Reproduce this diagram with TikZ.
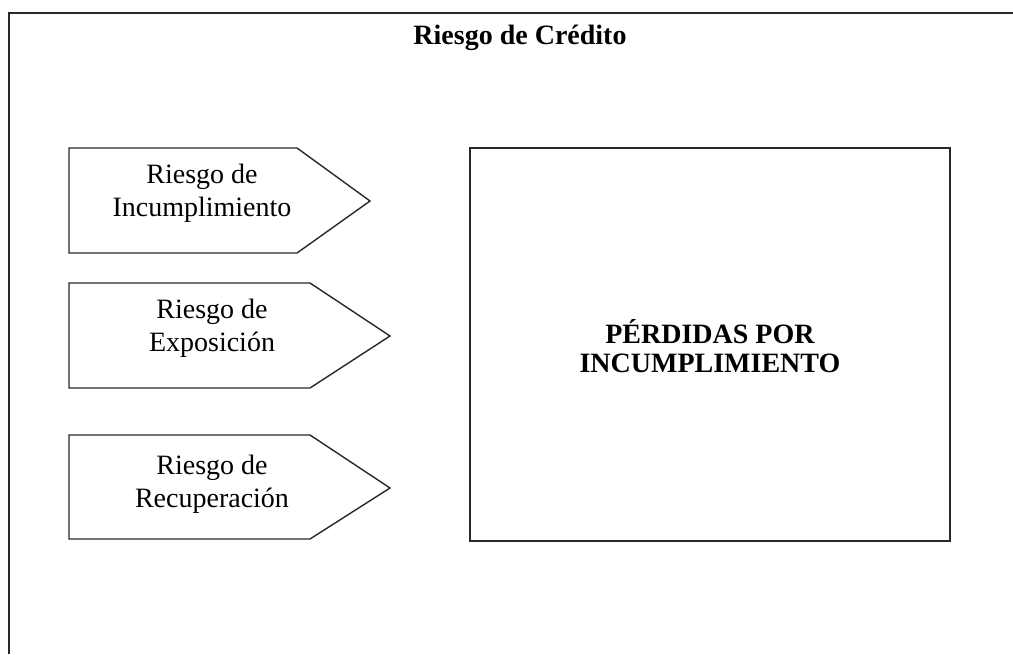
\documentclass[tikz,border=0pt]{standalone}
\definecolor{edge}{RGB}{40, 40, 40}
\usepackage{tikz}
\usepackage{xcolor}
\usepackage{fontspec}
\setmainfont{Liberation Serif}
\usetikzlibrary{calc,positioning}
\newcommand{\risklabel}[1]{\fontsize{14}{16.5}\selectfont #1}

\begin{document}
\begin{tikzpicture}[x=0.5pt, y=-0.5pt,
    outline/.style={draw=edge, line width=0.7pt},
    risktext/.style={align=center, inner sep=0pt, font=\fontsize{14}{16.5}\selectfont},
    bigtext/.style={align=center, inner sep=0pt, font=\bfseries\fontsize{14}{14.5}\selectfont}]
                \useasboundingbox (0,0) rectangle (1013,654);
                % frame
                \draw[outline] (9,654) -- (9,13) -- (1013,13);
                \node[font=\bfseries\fontsize{14}{16}\selectfont, inner sep=0pt] (title) at (520,38) {Riesgo de Crédito};
                % arrows on the left
                \draw[outline] (69,148) -- (297,148) -- (370,201) -- (297,253) -- (69,253) -- cycle;
                \draw[outline] (69,283) -- (310,283) -- (390,336) -- (310,388) -- (69,388) -- cycle;
                \draw[outline] (69,435) -- (310,435) -- (390,488) -- (310,539) -- (69,539) -- cycle;
                \node[risktext] (incump) at (202,193) {Riesgo de\\Incumplimiento};
                \node[risktext] (expo) at (212,328) {Riesgo de\\Exposición};
                \node[risktext] (recup) at (212,484) {Riesgo de\\Recuperación};
                % losses box
                \draw[outline] (470,148) rectangle (950,541);
                \node[bigtext] (perdidas) at (710,346) {PÉRDIDAS POR\\INCUMPLIMIENTO};
            \end{tikzpicture}
\end{document}
